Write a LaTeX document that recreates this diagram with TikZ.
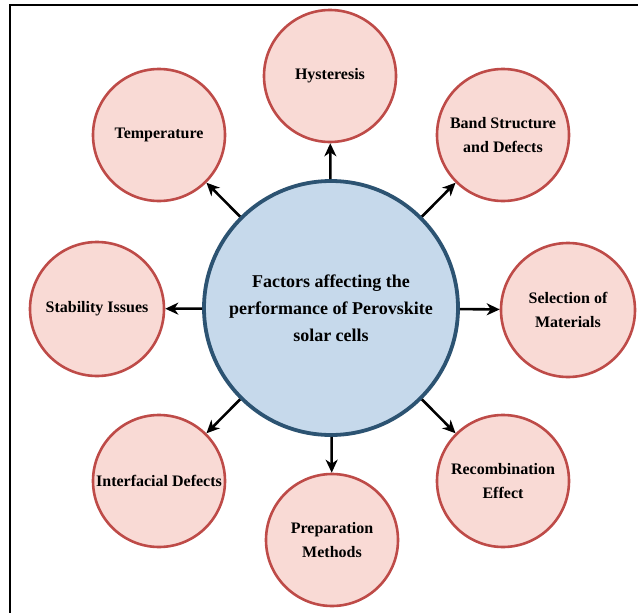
\documentclass[tikz,border=0pt]{standalone}
\usepackage{fontspec}
\setmainfont{Liberation Serif}
\usetikzlibrary{arrows.meta}
\definecolor{pinkfill}{HTML}{F9DAD5}
\definecolor{pinkline}{HTML}{BE4B48}
\definecolor{bluefill}{HTML}{C6D9EB}
\definecolor{blueline}{HTML}{2C5372}
\begin{document}
\begin{tikzpicture}[x=1pt,y=-1pt,
  factor/.style={circle,draw=pinkline,fill=pinkfill,line width=2.6pt,minimum size=132pt,inner sep=0pt,
    align=center,font=\fontsize{16}{24}\selectfont\bfseries},
  hub/.style={circle,draw=blueline,fill=bluefill,line width=3.8pt,minimum size=254pt,inner sep=0pt,
    align=center,font=\fontsize{18}{27}\selectfont\bfseries},
  arr/.style={line width=2.6pt,black,-{Stealth[length=13pt,width=12pt,inset=4pt]}}]
\useasboundingbox (0,0) rectangle (638,613);
\draw[line width=2.2pt,black] (10,613) -- (10,5) -- (638,5);
\node[hub] (c) at (331,308) {Factors affecting the\\performance of Perovskite\\solar cells};
\node[factor] (hyst) at (330,76) {Hysteresis};
\node[factor] (temp) at (159,135) {Temperature};
\node[factor] (band) at (503,135) {Band Structure\\and Defects};
\node[factor,minimum size=134pt] (stab) at (97,309) {Stability Issues};
\node[factor,minimum size=134pt] (sel) at (568,310) {Selection of\\Materials};
\node[factor] (inter) at (159,481) {Interfacial Defects};
\node[factor] (recomb) at (503,481) {Recombination\\Effect};
\node[factor] (prep) at (332,540) {Preparation\\Methods};
\foreach \t in {hyst,temp,band,stab,sel,inter,recomb,prep}
  \draw[arr] (c) -- (\t);
\end{tikzpicture}
\end{document}
